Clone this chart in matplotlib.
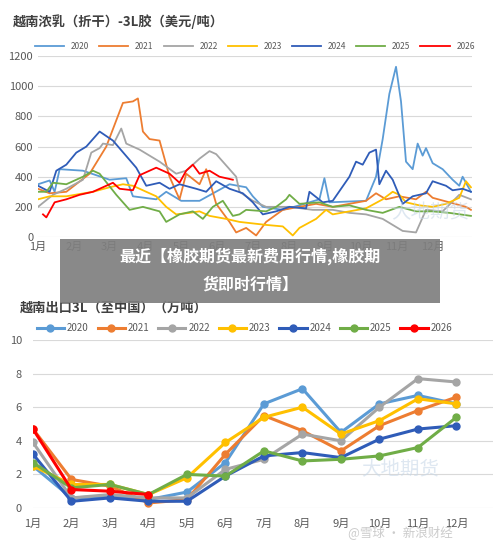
import matplotlib
matplotlib.use("Agg")
import matplotlib.pyplot as plt
import numpy as np

plt.rcParams['font.family'] = ['Noto Sans CJK SC', 'DejaVu Sans']

years = ['2020', '2021', '2022', '2023', '2024', '2025', '2026']
colors = ['#5B9BD5', '#ED7D31', '#A5A5A5', '#FFC000', '#2F5CB8', '#70AD47', '#FF0000']
months = ['1月', '2月', '3月', '4月', '5月', '6月', '7月', '8月', '9月', '10月', '11月', '12月']

# Top chart: (zoom-x position, price) readings; x converted to month offset below
p2020 = [(115,350),(150,375),(165,300),(180,450),(250,440),(330,380),(380,390),(400,270),(470,250),(500,300),(545,240),(600,240),(690,350),(740,330),(760,270),(790,200),(850,180),(900,210),(960,250),(975,390),(990,230),(1100,240),(1130,400),(1150,650),(1170,950),(1190,1130),(1205,900),(1220,500),(1240,450),(1255,620),(1270,540),(1280,590),(1300,490),(1330,450),(1360,380),(1380,340),(1390,400),(1415,300)]
p2021 = [(115,320),(150,290),(200,300),(270,420),(320,600),(370,890),(400,900),(415,920),(430,700),(450,650),(480,640),(510,400),(540,250),(560,420),(600,350),(620,450),(650,220),(690,100),(710,30),(740,60),(770,10),(800,100),(850,180),(900,200),(950,220),(1000,200),(1100,240),(1130,290),(1160,250),(1200,270),(1250,250),(1280,300),(1300,260),(1350,230),(1400,200),(1415,180)]
p2022 = [(115,200),(160,280),(200,320),(250,380),(275,560),(300,590),(310,620),(340,610),(365,720),(380,620),(420,580),(480,500),(530,420),(560,440),(600,520),(630,570),(650,550),(690,450),(710,400),(720,300),(760,240),(800,200),(870,200),(940,180),(1000,180),(1050,160),(1100,150),(1150,120),(1180,80),(1210,40),(1250,30),(1280,180),(1330,170),(1380,280),(1415,250)]
p2023 = [(115,250),(150,270),(200,270),(280,300),(330,330),(370,350),(400,340),(430,310),(470,270),(500,200),(530,150),(570,160),(600,170),(630,140),(680,120),(720,100),(760,90),(800,80),(850,70),(880,10),(900,60),(950,120),(980,180),(1000,150),(1050,170),(1100,190),(1150,250),(1180,300),(1200,280),(1220,230),(1260,210),(1300,200),(1340,220),(1380,260),(1400,370),(1415,330)]
p2024 = [(115,340),(150,300),(170,440),(200,480),(230,560),(260,600),(300,700),(340,640),(410,460),(440,340),(480,360),(510,320),(540,350),(590,320),(620,300),(650,370),(690,320),(730,290),(760,230),(790,150),(830,170),(870,200),(920,190),(930,300),(970,230),(1000,240),(1050,400),(1070,500),(1090,480),(1110,560),(1130,580),(1140,350),(1160,440),(1180,380),(1210,220),(1240,270),(1280,290),(1300,370),(1340,340),(1360,310),(1390,320),(1415,300)]
p2025 = [(115,300),(140,300),(160,360),(200,350),(250,400),(280,440),(300,420),(350,280),(390,180),(430,200),(480,170),(500,100),(540,150),(580,170),(610,120),(640,200),(670,240),(700,140),(720,150),(740,180),(800,170),(830,200),(860,250),(870,280),(900,220),(960,230),(1000,200),(1050,210),(1100,180),(1150,160),(1200,200),(1250,170),(1300,170),(1350,160),(1415,140)]
p2026 = [(130,150),(140,130),(165,230),(200,250),(240,280),(280,300),(320,340),(340,360),(360,320),(400,310),(420,410),(470,460),(510,420),(540,360),(560,440),(580,480),(600,420),(630,440),(660,400),(700,380)]
top_series = [p2020, p2021, p2022, p2023, p2024, p2025, p2026]

# Bottom chart: monthly exports (10k tons)
e2020 = [2.5, 0.6, 0.7, 0.5, 0.95, 2.7, 6.2, 7.1, 4.5, 6.2, 6.7, 6.2]
e2021 = [4.7, 1.7, 1.3, 0.3, 0.5, 3.2, 5.5, 4.6, 3.4, 4.9, 5.8, 6.6]
e2022 = [3.9, 0.6, 0.8, 0.6, 0.6, 2.3, 2.9, 4.4, 4.0, 6.0, 7.7, 7.5]
e2023 = [2.5, 1.4, 1.4, 0.8, 1.8, 3.9, 5.4, 6.0, 4.4, 5.2, 6.5, 6.2]
e2024 = [3.2, 0.4, 0.6, 0.4, 0.4, 1.9, 3.1, 3.3, 3.0, 4.1, 4.7, 4.9]
e2025 = [2.7, 1.2, 1.4, 0.8, 2.0, 1.9, 3.4, 2.8, 2.9, 3.1, 3.6, 5.4]
e2026 = [4.7, 1.1, 1.0, 0.8]
bottom_series = [e2020, e2021, e2022, e2023, e2024, e2025, e2026]

fig = plt.figure(figsize=(5.0, 5.46), dpi=100)
fig.patch.set_facecolor('white')

# ---- top chart
ax1 = fig.add_axes([0.076, 0.566, 0.868, 0.331])
for s, c, y in zip(top_series, colors, years):
    a = np.array(s, dtype=float)
    ax1.plot((a[:, 0] - 115) / 107.7, a[:, 1], color=c, lw=1.3, label=y)
ax1.set_xlim(0, 12.1)
ax1.set_ylim(0, 1200)
ax1.set_yticks(range(0, 1201, 200))
ax1.set_xticks(range(12))
ax1.set_xticklabels(months)
ax1.grid(axis='y', color='#D9D9D9', lw=0.8)
ax1.set_axisbelow(True)
for sp in ax1.spines.values():
    sp.set_visible(False)
ax1.tick_params(length=0, labelsize=8, colors='#595959')
ax1.legend(loc='lower center', bbox_to_anchor=(0.5, 1.0), ncol=7, frameon=False,
           fontsize=6, handlelength=3.5, columnspacing=1.2, borderaxespad=0.2,
           labelcolor='#595959')
fig.text(0.026, 0.96, '越南浓乳（折干）-3L胶（美元/吨）', fontsize=9.5, fontweight='bold',
         color='#404040', va='center')

# ---- bottom chart
ax2 = fig.add_axes([0.066, 0.0696, 0.92, 0.3077])
mx = np.arange(1, 13)
for s, c, y in zip(bottom_series, colors, years):
    ax2.plot(mx[:len(s)], s, color=c, lw=2.2, marker='o', ms=5, label=y)
ax2.set_xlim(1, 12.95)
ax2.set_ylim(0, 10)
ax2.set_yticks(range(0, 11, 2))
ax2.set_xticks(mx)
ax2.set_xticklabels(months)
ax2.grid(axis='y', color='#D9D9D9', lw=0.8)
ax2.set_axisbelow(True)
for sp in ax2.spines.values():
    sp.set_visible(False)
ax2.tick_params(length=0, labelsize=8, colors='#595959', pad=8)
ax2.legend(loc='lower center', bbox_to_anchor=(0.46, 1.0), ncol=7, frameon=False,
           fontsize=7, handlelength=2.8, columnspacing=0.9, borderaxespad=0.3,
           labelcolor='#595959', handletextpad=0.3)
fig.text(0.04, 0.437, '越南出口3L（至中国）（万吨）', fontsize=9.5, fontweight='bold',
         color='#404040', va='center')

# watermarks
fig.text(0.86, 0.6, '大地期货', fontsize=14, color='#C8D8E8', alpha=0.6, ha='center')
fig.text(0.8, 0.13, '大地期货', fontsize=14, color='#C8D8E8', alpha=0.6, ha='center')
fig.text(0.8, 0.025, '@雪球 · 新浪财经', fontsize=9, color='#CCCCCC', ha='center', va='center')

# banner
fig.patches.append(plt.Rectangle((0.12, 0.445), 0.76, 0.117, transform=fig.transFigure,
                                 facecolor='#7F7F7F', alpha=0.92, zorder=10))
fig.text(0.5, 0.53, '最近【橡胶期货最新费用行情,橡胶期', fontsize=11.5, fontweight='bold',
         color='white', ha='center', va='center', zorder=11)
fig.text(0.5, 0.478, '货即时行情】', fontsize=11.5, fontweight='bold',
         color='white', ha='center', va='center', zorder=11)

fig.savefig('out.png', dpi=100)
